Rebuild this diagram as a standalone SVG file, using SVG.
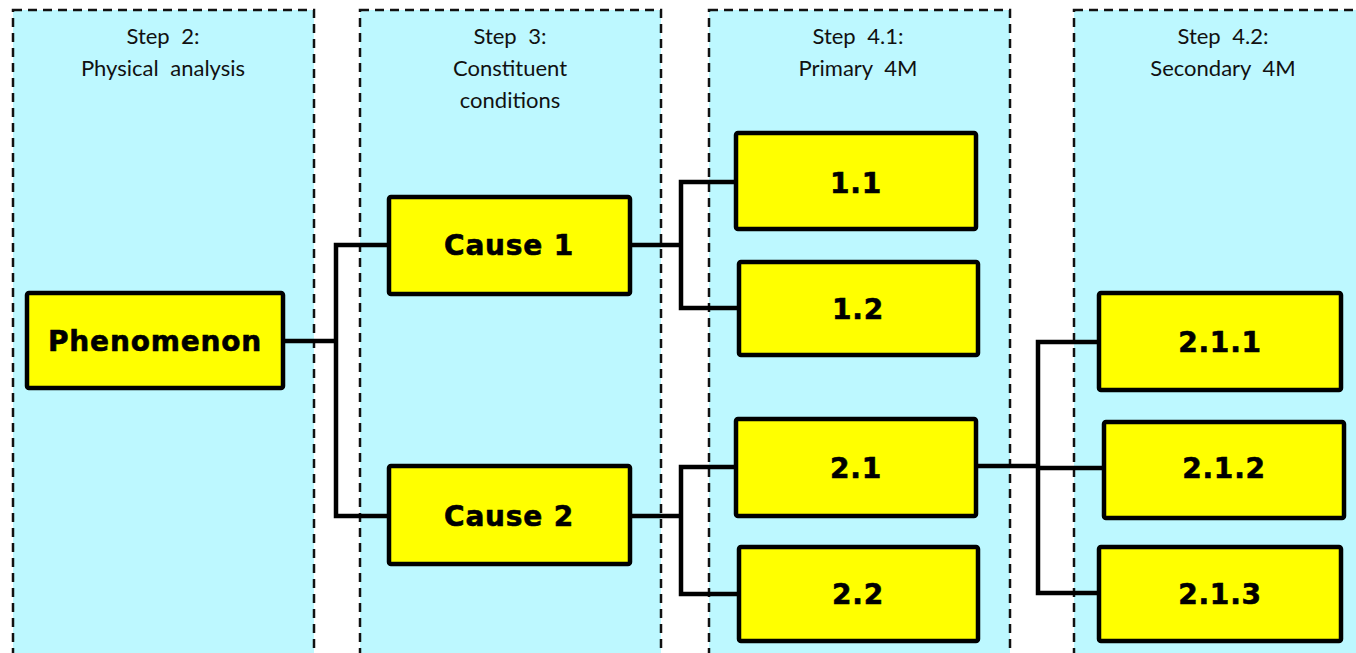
<svg xmlns="http://www.w3.org/2000/svg" width="1356" height="653" viewBox="0 0 1356 653">
  <style>
    .lane { fill: #bdf8ff; stroke: #111; stroke-width: 2.5; stroke-dasharray: 9 6; }
    .head { font-family: Lato, "Open Sans", "Liberation Sans", sans-serif; font-size: 22px; fill: #111; text-anchor: middle; word-spacing: 6px; }
    .box { fill: #ffff00; stroke: #000; stroke-width: 4.5; }
    .lbl { font-family: "DejaVu Sans", "Liberation Sans", sans-serif; font-weight: bold; font-size: 28px; letter-spacing: 0.8px; fill: #000; stroke: #000; stroke-width: 0.6; text-anchor: middle; dominant-baseline: central; }
    .wire { fill: none; stroke: #000; stroke-width: 4.5; stroke-linejoin: round; stroke-linecap: square; }
  </style>

  <!-- swim lanes -->
  <g id="lanes">
    <g id="lane-step2">
      <rect class="lane" x="13" y="10" width="301" height="660"/>
      <text class="head" x="163" y="44">Step 2:</text>
      <text class="head" x="163" y="76">Physical analysis</text>
    </g>
    <g id="lane-step3">
      <rect class="lane" x="360" y="10" width="301" height="660"/>
      <text class="head" x="510" y="44">Step 3:</text>
      <text class="head" x="510" y="76">Constituent</text>
      <text class="head" x="510" y="108">conditions</text>
    </g>
    <g id="lane-step41">
      <rect class="lane" x="709" y="10" width="301" height="660"/>
      <text class="head" x="858" y="44">Step 4.1:</text>
      <text class="head" x="858" y="76">Primary 4M</text>
    </g>
    <g id="lane-step42">
      <rect class="lane" x="1074" y="10" width="301" height="660"/>
      <text class="head" x="1223" y="44">Step 4.2:</text>
      <text class="head" x="1223" y="76">Secondary 4M</text>
    </g>
  </g>

  <!-- connectors -->
  <g id="connectors">
    <path class="wire" d="M283 341 H336 M336 245 V516 M336 245 H388 M336 516 H388"/>
    <path class="wire" d="M630 245 H681 M681 182 V308 M681 182 H735 M681 308 H738"/>
    <path class="wire" d="M630 516 H681 M681 467 V594 M681 467 H735 M681 594 H738"/>
    <path class="wire" d="M977 466 H1038 M1038 342 V593 M1038 342 H1098 M1038 468 H1103 M1038 593 H1098"/>
  </g>

  <!-- nodes -->
  <g id="phenomenon">
    <rect class="box" x="27" y="293" width="256" height="95" rx="2"/>
    <text class="lbl" x="155" y="341">Phenomenon</text>
  </g>
  <g id="cause-1">
    <rect class="box" x="389" y="197" width="241" height="97" rx="2"/>
    <text class="lbl" x="509" y="245">Cause 1</text>
  </g>
  <g id="cause-2">
    <rect class="box" x="389" y="466" width="241" height="98" rx="2"/>
    <text class="lbl" x="509" y="516">Cause 2</text>
  </g>
  <g id="n-1-1">
    <rect class="box" x="736" y="133" width="240" height="96" rx="2"/>
    <text class="lbl" x="856" y="183">1.1</text>
  </g>
  <g id="n-1-2">
    <rect class="box" x="739" y="262" width="239" height="93" rx="2"/>
    <text class="lbl" x="858" y="309">1.2</text>
  </g>
  <g id="n-2-1">
    <rect class="box" x="736" y="419" width="240" height="97" rx="2"/>
    <text class="lbl" x="856" y="468">2.1</text>
  </g>
  <g id="n-2-2">
    <rect class="box" x="739" y="547" width="239" height="94" rx="2"/>
    <text class="lbl" x="858" y="594">2.2</text>
  </g>
  <g id="n-2-1-1">
    <rect class="box" x="1099" y="293" width="242" height="97" rx="2"/>
    <text class="lbl" x="1220" y="342">2.1.1</text>
  </g>
  <g id="n-2-1-2">
    <rect class="box" x="1104" y="422" width="240" height="96" rx="2"/>
    <text class="lbl" x="1224" y="468">2.1.2</text>
  </g>
  <g id="n-2-1-3">
    <rect class="box" x="1099" y="547" width="242" height="94" rx="2"/>
    <text class="lbl" x="1220" y="594">2.1.3</text>
  </g>
</svg>
